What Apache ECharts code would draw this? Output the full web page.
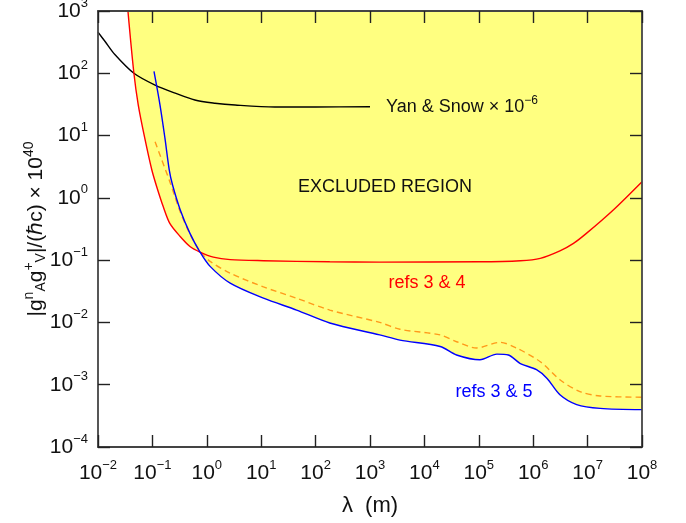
<!DOCTYPE html>
<html>
<head>
<meta charset="utf-8">
<script src="https://cdn.jsdelivr.net/npm/echarts@6/dist/echarts.min.js"></script>
<style>
  html, body { margin: 0; padding: 0; background: #fff; }
  #chart { width: 686px; height: 523px; }
</style>
</head>
<body>
<div id="chart"></div>
<script>
  // [lambda (m), coupling x 1e40]
  const yanSnow = [[0.01, 457], [0.0135, 324], [0.0204, 200], [0.0457, 100], [0.112, 64.6], [0.263, 47.9],
    [0.603, 37.2], [1.41, 33.1], [3.31, 30.9], [17.8, 28.8], [100, 28.8], [1000, 29]]
  const refs34 = [[0.0355, 1000], [0.0457, 100], [0.055, 30.9], [0.0724, 9.1], [0.0977, 2.8], [0.12, 1.51],
    [0.158, 0.724], [0.209, 0.389], [0.324, 0.24], [0.49, 0.166], [0.75, 0.135], [1.32, 0.112], [2.69, 0.102],
    [11, 0.098], [182, 0.094], [1500, 0.093], [1e5, 0.094], [5.8e5, 0.098], [1.35e6, 0.107], [3.1e6, 0.141],
    [5.5e6, 0.186], [9.5e6, 0.269], [3e7, 0.646], [1e8, 1.82]]
  const refs35 = [[0.107, 107], [0.138, 30.9], [0.17, 9.1], [0.204, 2.82], [0.234, 1.62], [0.324, 0.646],
    [0.49, 0.269], [0.75, 0.135], [1.15, 0.0794], [2.69, 0.0427], [11, 0.0245], [44.7, 0.0158], [182, 0.0098],
    [1510, 0.0063], [3550, 0.0052], [1.95e4, 0.0041], [3.9e4, 0.003], [1.05e5, 0.00251], [2.15e5, 0.0031],
    [3.5e5, 0.003], [5.8e5, 0.00219], [1.15e6, 0.00174], [1.8e6, 0.00126], [3.1e6, 0.00069], [6.3e6, 0.00048],
    [1.7e7, 0.000417], [1e8, 0.000398]]
  const refsDashed = [[0.112, 7.94], [0.209, 1.82], [0.324, 0.6], [0.49, 0.263], [0.75, 0.138], [1.15, 0.0955],
    [2.69, 0.0617], [11, 0.0372], [44.7, 0.0245], [182, 0.0158], [1510, 0.01], [3550, 0.00776], [1.95e4, 0.0063],
    [3.9e4, 0.0049], [9.1e4, 0.00389], [2.45e5, 0.00479], [4.9e5, 0.00389], [1.35e6, 0.00234], [3.1e6, 0.0012],
    [7.2e6, 0.000776], [1.7e7, 0.00066], [1e8, 0.00063]]

  // where refs 3&5 drops below refs 3&4
  const crossX = 0.75
  const envelope = refs34.filter(p => p[0] < crossX).concat(refs35.filter(p => p[0] >= crossX))

  const FONT = '"Liberation Sans", Arial, sans-serif'
  const NARROW = '"Liberation Sans Narrow", "Liberation Sans", sans-serif'

  function powLabel(v) {
    const e = Math.round(Math.log10(v))
    return '{b|10}{e|' + String(e).replace('-', '\u2212') + '}'
  }
  const tickRich = {
    b: { fontSize: 21, fontFamily: NARROW, color: '#111' },
    e: { fontSize: 13, fontFamily: NARROW, color: '#111', padding: [0, 0, 16, 0] }
  }
  const lineC = '#444'

  function axisBase(extra) {
    return Object.assign({
      type: 'log',
      logBase: 10,
      interval: 1,
      z: 10,
      axisLine: { show: true, onZero: false, lineStyle: { color: lineC, width: 1.8 } },
      axisTick: { show: true, inside: true, interval: 0, length: 12, lineStyle: { color: '#222', width: 1.4 } },
      minorTick: { show: false },
      splitLine: { show: false },
      axisLabel: { show: false }
    }, extra)
  }

  const chart = echarts.init(document.getElementById('chart'))
  chart.setOption({
    animation: false,
    grid: { left: 98, right: 44, top: 11, bottom: 76, containLabel: false, outerBoundsMode: 'none' },
    xAxis: [
      axisBase({
        min: 0.01, max: 1e8, position: 'bottom',
        axisLabel: { show: true, margin: 12, formatter: powLabel, rich: tickRich },
        name: '\u03bb  (m)', nameLocation: 'middle', nameGap: 48, nameMoveOverlap: false,
        nameTextStyle: { fontSize: 22, fontFamily: FONT, color: '#111' }
      }),
      axisBase({ min: 0.01, max: 1e8, position: 'top' })
    ],
    yAxis: [
      axisBase({
        min: 1e-4, max: 1e3, position: 'left',
        axisLabel: { show: true, margin: 10, formatter: powLabel, rich: tickRich },
        name: '|g{sup|n}{sub|A}g{sup|+}{sub|V}|/(\u210fc) \u00d7 10{sup|40}',
        nameLocation: 'middle', nameRotate: 90, nameGap: 48, nameMoveOverlap: false,
        nameTextStyle: {
          fontSize: 21, fontFamily: FONT, color: '#111',
          rich: {
            sup: { fontSize: 14, fontFamily: FONT, color: '#111', padding: [0, 0, 14, 0] },
            sub: { fontSize: 14, fontFamily: FONT, color: '#111', padding: [10, 0, 0, 0] }
          }
        }
      }),
      axisBase({ min: 1e-4, max: 1e3, position: 'right' })
    ],
    graphic: [
      {
        type: 'text', x: 386, y: 107, z: 100,
        style: {
          text: 'Yan & Snow \u00d7 10{s|\u22126}', font: '18px ' + FONT, fill: '#111',
          verticalAlign: 'middle',
          rich: { s: { fontSize: 12, fontFamily: FONT, fill: '#111', padding: [0, 0, 12, 0] } }
        }
      },
      {
        type: 'text', x: 385, y: 187, z: 100,
        style: { text: 'EXCLUDED REGION', font: '18px ' + FONT, fill: '#111', align: 'center', verticalAlign: 'middle' }
      },
      {
        type: 'text', x: 427, y: 283, z: 100,
        style: { text: 'refs 3 & 4', font: '18px ' + FONT, fill: '#ff0000', align: 'center', verticalAlign: 'middle' }
      },
      {
        type: 'text', x: 494, y: 392, z: 100,
        style: { text: 'refs 3 & 5', font: '18px ' + FONT, fill: '#0000ff', align: 'center', verticalAlign: 'middle' }
      }
    ],
    series: [
      {
        name: 'excluded', type: 'line', data: envelope, smooth: 0.3, showSymbol: false, z: 1,
        lineStyle: { width: 0, opacity: 0 },
        areaStyle: { color: '#ffff80', opacity: 1, origin: 'end' }
      },
      {
        name: 'Yan & Snow', type: 'line', data: yanSnow, smooth: 0.3, showSymbol: false, z: 3,
        lineStyle: { color: '#000', width: 1.4 }
      },
      {
        name: 'refs 3 & 4', type: 'line', data: refs34, smooth: 0.3, showSymbol: false, z: 3,
        lineStyle: { color: '#ff0000', width: 1.4 }
      },
      {
        name: 'dashed', type: 'line', data: refsDashed, smooth: 0.3, showSymbol: false, z: 2,
        lineStyle: { color: '#ff9a1a', width: 1.4, type: [6, 4] }
      },
      {
        name: 'refs 3 & 5', type: 'line', data: refs35, smooth: 0.3, showSymbol: false, z: 3,
        lineStyle: { color: '#0000ff', width: 1.4 }
      }
    ]
  })
</script>
</body>
</html>
